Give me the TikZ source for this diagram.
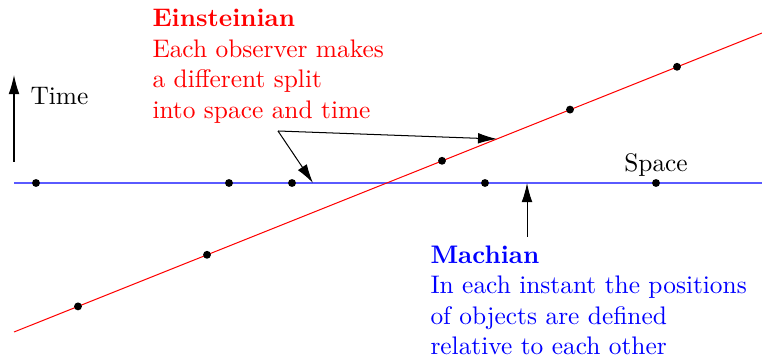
\documentclass[tikz,border=0pt]{standalone}
\usetikzlibrary{arrows.meta,positioning}
\definecolor{slice}{RGB}{90,90,255}
\begin{document}
\begin{tikzpicture}[x=0.394pt,y=-0.394pt,
      dot/.style={circle,fill,inner sep=0pt,minimum size=3.1pt},
      tip/.style={-{Latex[length=7.5pt,width=4.2pt]}},
      txt/.style={align=left,inner sep=0pt,anchor=north west}]
      \useasboundingbox (0,0) rectangle (762,358);
      % the two slices
      \coordinate (s0) at (14,183); \coordinate (s1) at (762,183);
      \coordinate (r0) at (14,332); \coordinate (r1) at (762,33);
      \draw[slice] (s0) -- (s1);
      \draw[red] (r0) -- (r1);
      \foreach \x in {36,229,292,485,656} \node[dot] (b\x) at (\x,183) {};
      \foreach \x/\y in {78/306.4,207/254.8,442/160.8,570/109.6,677/66.8} \node[dot] (r\x) at (\x,\y) {};
      % time axis
      \coordinate (t0) at (14,162); \coordinate (t1) at (14,75);
      \draw[tip] (t0) -- (t1);
      \node[anchor=base west,inner sep=0pt] (time) at (30,105) {Time};
      \node[anchor=base,inner sep=0pt] (space) at (656,172) {Space};
      % labels
      \node[txt,red] (ein) at (152,9) {\textbf{Einsteinian}\\Each observer makes\\a different split\\into space and time};
      \node[txt,blue] (mach) at (430,245) {\textbf{Machian}\\In each instant the positions\\of objects are defined\\relative to each other};
      \coordinate (split) at (278,131);
      \coordinate (e1) at (313,183); \coordinate (e2) at (497,139);
      \draw[tip] (split) -- (e1);
      \draw[tip] (split) -- (e2);
      \coordinate (m0) at (527,237); \coordinate (m1) at (527,183);
      \draw[tip] (m0) -- (m1);
    \end{tikzpicture}
\end{document}
